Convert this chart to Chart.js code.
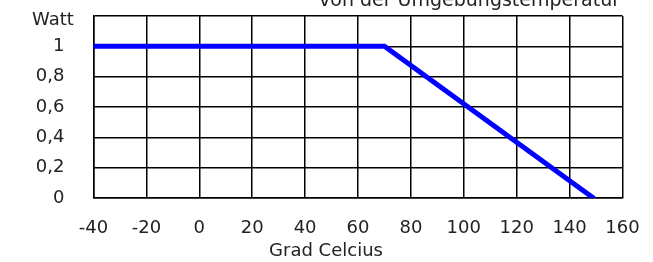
<!DOCTYPE html>
<html><head><meta charset="utf-8">
<script src="https://cdn.jsdelivr.net/npm/chart.js@4"></script>
<style>html,body{margin:0;padding:0;background:#fff;}#wrap{width:653px;height:262px;}</style>
</head><body><div id="wrap"><canvas id="c" width="653" height="262"></canvas></div>
<script>
const tempC = [-40, 70, 149];
const watt = [1, 1, 0];
const yTickLabels = ['0', '0,2', '0,4', '0,6', '0,8', '1', ''];
const xTickValues = [-40, -20, 0, 20, 40, 60, 80, 100, 120, 140, 160];
const titleText = 'von der Umgebungstemperatur';
const yUnit = 'Watt';
const xTitle = 'Grad Celcius';

const FONT = 'DejaVu Sans';
const TXT = '#222';
const textPlugin = {
  id: 'texts',
  afterDraw(chart) {
    const ctx = chart.ctx;
    ctx.save();
    ctx.fillStyle = TXT;
    ctx.textBaseline = 'alphabetic';
    ctx.font = '19px ' + FONT;
    ctx.textAlign = 'right';
    ctx.fillText(titleText, 620, 6);
    ctx.font = '18px ' + FONT;
    ctx.textAlign = 'left';
    ctx.fillText(yUnit, 32, 25);
    ctx.textAlign = 'center';
    ctx.fillText(xTitle, 326, 256);
    ctx.restore();
  }
};

new Chart(document.getElementById('c'), {
  type: 'line',
  data: {
    datasets: [{
      data: tempC.map((t, i) => ({x: t, y: watt[i]})),
      borderColor: '#0000ff',
      borderWidth: 5,
      borderCapStyle: 'round',
      borderJoinStyle: 'miter',
      pointRadius: 0,
      tension: 0,
      fill: false
    }]
  },
  options: {
    responsive: false,
    animation: false,
    layout: {padding: {left: 0, right: 30.5, top: 16, bottom: 0}},
    plugins: {legend: {display: false}, tooltip: {enabled: false}, title: {display: false}},
    scales: {
      x: {
        type: 'linear', min: -40, max: 160,
        afterBuildTicks(s) { s.ticks = xTickValues.map(v => ({value: v})); },
        afterFit(s) { s.height = 64; s.paddingLeft = 0; s.paddingRight = 0; },
        grid: {color: '#000', lineWidth: 1.5, drawTicks: false},
        border: {color: '#000', width: 1.5},
        ticks: {color: TXT, font: {family: FONT, size: 18}, padding: 20, maxRotation: 0, autoSkip: false},
        title: {display: false}
      },
      y: {
        type: 'linear', min: 0, max: 1.2,
        afterBuildTicks(s) { s.ticks = yTickLabels.map((l, i) => ({value: i * 0.2})); },
        afterFit(s) { s.width = 93.5; s.paddingTop = 0; s.paddingBottom = 0; },
        grid: {color: '#000', lineWidth: 1.5, drawTicks: false},
        border: {color: '#000', width: 1.5},
        ticks: {color: TXT, font: {family: FONT, size: 18}, padding: 29, autoSkip: false,
          callback: (v, i) => yTickLabels[i]}
      }
    }
  },
  plugins: [textPlugin]
});
</script></body></html>
